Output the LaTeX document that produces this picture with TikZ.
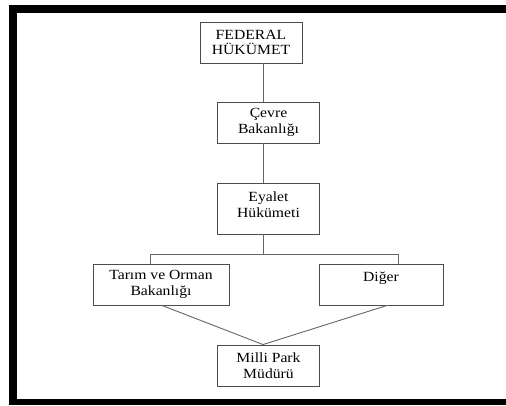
\documentclass[tikz,border=0pt]{standalone}
\usepackage{fontspec}
\setmainfont{Liberation Serif}[FakeStretch=1.12]
\begin{document}
\begin{tikzpicture}[x=1pt,y=-1pt,
  box/.style={draw=black!70,line width=0.9pt,inner sep=0pt,align=center,
    font=\fontsize{14}{15.5}\selectfont},
  conn/.style={draw=black!60,line width=0.9pt},
  txt/.style={align=center,inner sep=0pt,font=\fontsize{14}{15.5}\selectfont}]
\useasboundingbox (0,0) rectangle (506,405);
\fill[white] (0,0) rectangle (506,405);
% frame
\fill[black] (9,5) rectangle (17,405);
\fill[black] (9,5) rectangle (506,13);
\fill[black] (9,399) rectangle (506,405);
% boxes
\node[box,minimum width=102,minimum height=41] (fed) at (251,42.5) {FEDERAL\\HÜKÜMET};
\node[box,minimum width=101.5,minimum height=41] (cev) at (268.5,122.5) {Çevre\\Bakanlığı};
\node[box,minimum width=101.5,minimum height=51,
  label={[txt,yshift=4pt]center:{Eyalet\\Hükümeti}}] (eya) at (268.5,208.5) {};
\node[box,minimum width=136,minimum height=41] (tar) at (161,284.5) {Tarım ve Orman\\Bakanlığı};
\node[box,minimum width=124,minimum height=41] (dig) at (381,284.5) {Diğer\\\mbox{}};
\node[box,minimum width=101.5,minimum height=41] (mil) at (268.5,365.5) {Milli Park\\Müdürü};
% connector helpers
\coordinate (cx) at (263,0);
\coordinate (bar) at (263,254);
\coordinate (lx) at (150,0);
\coordinate (rx) at (398,0);
\coordinate (tl) at (162,0);
\coordinate (dr) at (387,0);
\draw[conn] (fed.south -| cx) -- (cev.north -| cx);
\draw[conn] (cev.south -| cx) -- (eya.north -| cx);
\draw[conn] (eya.south -| cx) -- (bar);
\draw[conn] (tar.north -| lx) -- (bar -| lx) -- (bar -| rx) -- (dig.north -| rx);
\draw[conn] (tar.south -| tl) -- (mil.north -| cx) -- (dig.south -| dr);
\end{tikzpicture}
\end{document}
